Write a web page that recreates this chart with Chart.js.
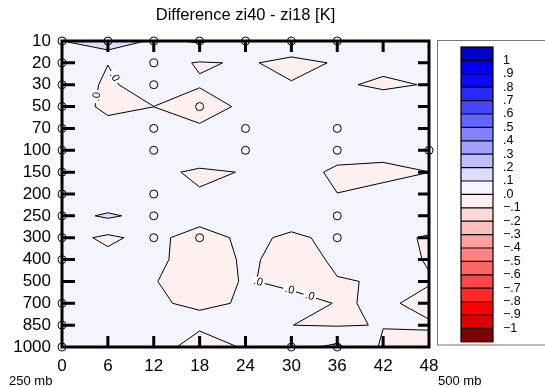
<!DOCTYPE html>
<html>
<head>
<meta charset="utf-8">
<title>Difference zi40 - zi18 [K]</title>
<script src="https://cdn.jsdelivr.net/npm/chart.js@4.4.1/dist/chart.umd.min.js"></script>
<style>
  html, body { margin: 0; padding: 0; background: #fff; }
  #wrap { position: relative; width: 545px; height: 387px; }
</style>
</head>
<body>
<div id="wrap"><canvas id="chart"></canvas></div>
<script>
// Forecast hour (x) and pressure level in mb (y, top to bottom)
const hours = [0, 6, 12, 18, 24, 30, 36, 42, 48];
const levels = ['10', '20', '30', '50', '70', '100', '150', '200', '250', '300', '400', '500', '700', '850', '1000'];

// zi40 - zi18 [K], one value per forecast hour on each level
const d10   = [0.0988, 0.168, 0.085, 0.11, 0.06, 0.0316, 0.05, 0.05, 0.05];
const d20   = [0.05, 0.0025, 0.024, -0.005, 0.005, -0.0117, 0.0033, 0.0163, 0.04];
const d30   = [0.088, -0.022, 0.07, 0.005, 0.04, 0.0026, 0.0085, -0.01, 0.0035];
const d50   = [0.077, -0.03, -0.0005, -0.0307, 0.0132, 0.04, 0.04, 0.0335, 0.04];
const d70   = [0.05, 0.043, 0.04, 0.0092, 0.04, 0.05, 0.05, 0.05, 0.05];
const d100  = [0.05, 0.05, 0.05, 0.0456, 0.05, 0.05, 0.0425, 0.037, 0.04];
const d150  = [0.05, 0.05, 0.0144, -0.01, 0.0028, 0.047, -0.02, -0.03, -0.0005];
const d200  = [0.05, 0.008, 0.05, 0.0047, 0.05, 0.05, 0.001, 0.0325, 0.04];
const d250  = [0.061, 0.115, 0.065, 0.06, 0.05, 0.06, 0.05, 0.05, 0.0307];
const d300  = [0.038, -0.0187, 0.035, -0.06, 0.032, -0.0222, 0.0294, 0.014, -0.005];
const d400  = [0.05, 0.027, 0.0296, -0.06, 0.015, -0.0305, 0.0107, 0.028, -0.005];
const d500  = [0.05, 0.05, 0.0079, -0.08, 0.0141, -0.0447, -0.0032, 0.0035, 0.0045];
const d700  = [0.05, 0.05, 0.0109, -0.0157, 0.0077, 0.0643, -0.0079, 0.0105, -0.0179];
const d850  = [0.05, 0.05, 0.05, 0.0333, 0.05, 0.0003, -0.0063, 0.003, 0.0066];
const d1000 = [0.05, 0.05, 0.09, -0.09, 0.0184, 0.07, 0.12, -0.0148, -0.022];
const diff = [d10, d20, d30, d50, d70, d100, d150, d200, d250, d300, d400, d500, d700, d850, d1000];

// Contour levels and the fill of each band, lowest band first
const contourLevels = [-1, -0.9, -0.8, -0.7, -0.6, -0.5, -0.4, -0.3, -0.2, -0.1, 0,
                       0.1, 0.2, 0.3, 0.4, 0.5, 0.6, 0.7, 0.8, 0.9, 1];
const bandColors = ['#800000', '#e00000', '#ff0000', '#ff2828', '#ff4646', '#ff6464',
                    '#ff8282', '#ffa0a0', '#ffbebe', '#ffd8d8', '#fff0f0', '#f4f4ff',
                    '#dcdcff', '#bebeff', '#a0a0ff', '#8282ff', '#6464ff', '#4646ff',
                    '#2828ff', '#0a0aff', '#0000f0', '#0000c8'];
const barLabels = ['1', '.9', '.8', '.7', '.6', '.5', '.4', '.3', '.2', '.1', '.0',
                   '\u2212.1', '\u2212.2', '\u2212.3', '\u2212.4', '\u2212.5', '\u2212.6',
                   '\u2212.7', '\u2212.8', '\u2212.9', '\u22121'];

// Grid points marked with an open circle
const markHours  = [0, 6, 12, 18, 24, 30, 36,
                    0, 0, 0, 0, 0, 0, 0, 0, 0, 0, 0, 0, 0,
                    12, 12, 18, 12, 24, 36, 12, 24, 36, 48,
                    12, 12, 36, 12, 18, 36, 30, 36];
const markLevels = ['10', '10', '10', '10', '10', '10', '10',
                    '20', '30', '50', '70', '100', '150', '200', '250', '300', '400', '700', '850', '1000',
                    '20', '30', '50', '70', '70', '70', '100', '100', '100', '100',
                    '200', '250', '250', '300', '300', '300', '1000', '1000'];

// Zero-line labels: [hour index, level index, position along the cell segment]
const zeroLabels = [[1, 1, 0.6], [0, 2, 0.45], [4, 11, 0.05], [4, 11, 0.95], [5, 11, 0.45]];

const cornerLeft = '250 mb';
const cornerRight = '500 mb';

Chart.defaults.font.family = "'Liberation Sans', Arial, Helvetica, sans-serif";
Chart.defaults.color = '#000';

// Pieces of one grid cell at a given level: fill polygons (v >= lev) and line segments
function cellGeom(c, r, lev, px, py) {
  const pts = [[c, r], [c + 1, r], [c + 1, r + 1], [c, r + 1]]
    .map(([i, j]) => ({ x: px[i], y: py[j], v: diff[j][i] }));
  const inside = pts.map(p => p.v >= lev);
  const cross = (a, b) => {
    const t = (lev - a.v) / (b.v - a.v);
    return { x: a.x + t * (b.x - a.x), y: a.y + t * (b.y - a.y) };
  };
  const edges = [0, 1, 2, 3].map(k => inside[k] !== inside[(k + 1) % 4] ? cross(pts[k], pts[(k + 1) % 4]) : null);
  const walk = () => {
    const poly = [];
    for (let k = 0; k < 4; k++) {
      if (inside[k]) poly.push(pts[k]);
      if (edges[k]) poly.push(edges[k]);
    }
    return poly;
  };
  const polys = [];
  const segs = [];
  const saddle = inside[0] === inside[2] && inside[1] === inside[3] && inside[0] !== inside[1];
  if (saddle) {
    const centreIn = pts.reduce((s, p) => s + p.v, 0) / 4 >= lev;
    if (centreIn) polys.push(walk());
    for (let k = 0; k < 4; k++) {
      if (inside[k] && !centreIn) polys.push([edges[(k + 3) % 4], pts[k], edges[k]]);
      if (inside[k] !== centreIn) segs.push([edges[(k + 3) % 4], edges[k]]);
    }
  } else {
    if (inside.some(Boolean)) polys.push(walk());
    const hits = edges.filter(Boolean);
    if (hits.length === 2) segs.push(hits);
  }
  return { polys, segs };
}

function eachCell(fn) {
  for (let r = 0; r < levels.length - 1; r++) {
    for (let c = 0; c < hours.length - 1; c++) fn(c, r);
  }
}

const contourPlugin = {
  id: 'contour',
  beforeDatasetsDraw(chart) {
    const { ctx, chartArea: a, scales: { x, y } } = chart;
    const px = hours.map(h => x.getPixelForValue(h));
    const py = levels.map((_, i) => y.getPixelForValue(i));
    const flat = diff.flat();
    const lo = Math.min(...flat);
    const hi = Math.max(...flat);
    const bandOf = v => contourLevels.filter(l => l <= v).length;
    const active = contourLevels.filter(l => l > lo && l <= hi);

    ctx.save();
    ctx.beginPath();
    ctx.rect(a.left, a.top, a.width, a.height);
    ctx.clip();

    ctx.fillStyle = bandColors[bandOf(lo)];
    ctx.fillRect(a.left, a.top, a.width, a.height);

    // each level fills everything above it, drawn from the bottom band upward
    active.forEach(lev => {
      ctx.beginPath();
      eachCell((c, r) => {
        cellGeom(c, r, lev, px, py).polys.forEach(poly => {
          poly.forEach((p, i) => i ? ctx.lineTo(p.x, p.y) : ctx.moveTo(p.x, p.y));
          ctx.closePath();
        });
      });
      ctx.fillStyle = bandColors[contourLevels.indexOf(lev) + 1];
      ctx.fill();
    });

    ctx.strokeStyle = '#000';
    ctx.lineWidth = 1;
    ctx.lineJoin = 'round';
    active.forEach(lev => {
      ctx.beginPath();
      eachCell((c, r) => {
        cellGeom(c, r, lev, px, py).segs.forEach(([p, q]) => {
          ctx.moveTo(p.x, p.y);
          ctx.lineTo(q.x, q.y);
        });
      });
      ctx.stroke();
    });

    // ".0" labels sitting on the zero line
    ctx.font = "11px 'Liberation Sans', Arial, sans-serif";
    ctx.textAlign = 'center';
    ctx.textBaseline = 'middle';
    zeroLabels.forEach(([c, r, f]) => {
      const seg = cellGeom(c, r, 0, px, py).segs[0];
      if (!seg) return;
      const [p, q] = seg[0].x <= seg[1].x ? seg : [seg[1], seg[0]];
      const lx = p.x + f * (q.x - p.x);
      const ly = p.y + f * (q.y - p.y);
      let ang = Math.atan2(q.y - p.y, q.x - p.x);
      if (ang > Math.PI / 2) ang -= Math.PI;
      if (ang < -Math.PI / 2) ang += Math.PI;
      const w = ctx.measureText('.0').width;
      ctx.save();
      ctx.translate(lx, ly);
      ctx.rotate(ang);
      ctx.fillStyle = '#fff';
      ctx.fillRect(-w / 2 - 2, -5, w + 4, 10);
      ctx.fillStyle = '#000';
      ctx.fillText('.0', 0, 0);
      ctx.restore();
    });
    ctx.restore();
  },
  afterDraw(chart) {
    const { ctx, chartArea: a, scales: { x, y } } = chart;
    ctx.save();

    // heavy frame with inward ticks
    ctx.strokeStyle = '#000';
    ctx.lineWidth = 3;
    ctx.beginPath();
    hours.slice(1, -1).forEach(h => {
      const xp = x.getPixelForValue(h);
      ctx.moveTo(xp, a.top); ctx.lineTo(xp, a.top + 11);
      ctx.moveTo(xp, a.bottom); ctx.lineTo(xp, a.bottom - 11);
    });
    levels.slice(1, -1).forEach((_, i) => {
      const yp = y.getPixelForValue(i + 1);
      ctx.moveTo(a.left, yp); ctx.lineTo(a.left + 13, yp);
      ctx.moveTo(a.right, yp); ctx.lineTo(a.right - 11, yp);
    });
    ctx.stroke();
    ctx.strokeRect(a.left, a.top, a.width, a.height);

    // colour bar
    ctx.lineWidth = 1;
    ctx.strokeStyle = '#777';
    ctx.strokeRect(437.5, 40.5, 130, 304.5);
    const bx = 461, bw = 32, btop = 47, bh = 13.4;
    const n = bandColors.length;
    for (let i = 0; i < n; i++) {
      ctx.fillStyle = bandColors[n - 1 - i];
      ctx.fillRect(bx, btop + i * bh, bw, bh);
    }
    ctx.strokeStyle = '#000';
    ctx.lineWidth = 1.2;
    ctx.beginPath();
    for (let i = 1; i < n; i++) {
      ctx.moveTo(bx, btop + i * bh);
      ctx.lineTo(bx + bw, btop + i * bh);
    }
    ctx.stroke();
    ctx.strokeRect(bx, btop, bw, n * bh);

    ctx.fillStyle = '#000';
    ctx.font = "12.5px 'Liberation Sans', Arial, sans-serif";
    ctx.textAlign = 'left';
    ctx.textBaseline = 'middle';
    barLabels.forEach((t, i) => ctx.fillText(t, 503, btop + (i + 1) * bh));

    ctx.font = "13px 'Liberation Sans', Arial, sans-serif";
    ctx.textBaseline = 'alphabetic';
    ctx.fillText(cornerLeft, 9, 385);
    ctx.fillText(cornerRight, 438, 385);
    ctx.restore();
  }
};

new Chart(document.getElementById('chart'), {
  type: 'scatter',
  data: {
    datasets: [{
      data: markHours.map((h, i) => ({ x: h, y: levels.indexOf(markLevels[i]) })),
      pointRadius: 4,
      pointHoverRadius: 4,
      pointBorderWidth: 1,
      borderColor: '#000',
      backgroundColor: 'rgba(0,0,0,0)',
      showLine: false,
      clip: false
    }]
  },
  options: {
    responsive: true,
    maintainAspectRatio: false,
    animation: false,
    events: [],
    layout: { padding: { top: 0, left: 0, right: 116, bottom: 0 } },
    plugins: {
      legend: { display: false },
      tooltip: { enabled: false },
      title: {
        display: true,
        text: 'Difference zi40 - zi18 [K]',
        color: '#000',
        fullSize: false,
        font: { size: 16.5, weight: 'normal' },
        padding: { top: 6, bottom: 15.2 }
      }
    },
    scales: {
      x: {
        type: 'linear',
        min: 0,
        max: 48,
        afterBuildTicks: axis => { axis.ticks = hours.map(v => ({ value: v })); },
        afterFit: axis => { axis.height = 40; },
        grid: { display: false, drawTicks: false },
        border: { display: false },
        ticks: { color: '#000', font: { size: 17 }, padding: 9, autoSkip: false, maxRotation: 0 }
      },
      y: {
        type: 'linear',
        reverse: true,
        min: 0,
        max: levels.length - 1,
        afterBuildTicks: axis => { axis.ticks = levels.map((_, i) => ({ value: i })); },
        afterFit: axis => { axis.width = 62; },
        grid: { display: false, drawTicks: false },
        border: { display: false },
        ticks: {
          color: '#000',
          font: { size: 17 },
          padding: 11,
          autoSkip: false,
          callback: v => levels[v]
        }
      }
    }
  },
  plugins: [contourPlugin]
});
</script>
</body>
</html>
